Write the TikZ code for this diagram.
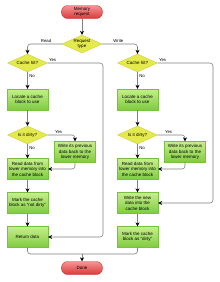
\documentclass[tikz,border=0pt]{standalone}
\usepackage{fontspec}
\setmainfont{Liberation Sans}
\usetikzlibrary{arrows.meta,shapes.geometric}
\definecolor{lineg}{HTML}{808080}
\definecolor{boxtop}{HTML}{C6EE8C}
\definecolor{boxbot}{HTML}{7FCB3E}
\definecolor{boxdraw}{HTML}{78C040}
\definecolor{diafill}{HTML}{E4EA4C}
\definecolor{diadraw}{HTML}{C4CA30}
\definecolor{termtop}{HTML}{F49494}
\definecolor{termbot}{HTML}{DA3838}
\definecolor{termdraw}{HTML}{C03030}
\tikzset{
  txt/.style={font=\fontsize{4.5}{5.4}\selectfont, align=center, text=black},
  procbox/.style={txt, rectangle, draw=boxdraw, line width=0.3pt, top color=boxtop, bottom color=boxbot,
    minimum width=41pt, minimum height=21pt, inner sep=0pt},
  decision/.style={txt, diamond, draw=diadraw, line width=0.3pt, fill=diafill,
    minimum width=40pt, minimum height=18pt, inner sep=0pt, shape aspect=2.2},
  terminal/.style={txt, rectangle, rounded corners=6pt, draw=termdraw, line width=0.3pt,
    top color=termtop, bottom color=termbot, minimum width=41pt, minimum height=13pt, inner sep=0pt},
  conn/.style={draw=lineg, line width=0.6pt, rounded corners=3pt},
  arr/.style={conn, -{Stealth[length=4pt,width=4pt,inset=1.3pt,black]}},
  lbl/.style={font=\fontsize{4.3}{5}\selectfont, text=black, inner sep=0pt}
}
\begin{document}
\begin{tikzpicture}[x=1pt,y=-1pt]
\useasboundingbox (0,0) rectangle (220,282);
% nodes
\node[terminal] (mr) at (82,12) {Memory\\request};
\node[decision] (rt) at (82,44) {Request\\type};
\node[decision] (ch1) at (27.5,63) {Cache hit?};
\node[decision] (ch2) at (137.5,63) {Cache hit?};
\node[procbox] (loc1) at (27.5,99.5) {Locate a cache\\block to use};
\node[procbox] (loc2) at (137.5,99.5) {Locate a cache\\block to use};
\node[decision] (d1) at (27.5,135) {Is it dirty?};
\node[decision] (d2) at (137.5,135) {Is it dirty?};
\node[procbox] (wb1) at (75,152) {Write its previous\\data back to the\\lower memory};
\node[procbox] (wb2) at (185,152) {Write its previous\\data back to the\\lower memory};
\node[procbox] (rd1) at (27.5,169) {Read data from\\lower memory into\\the cache block};
\node[procbox] (rd2) at (137.5,169) {Read data from\\lower memory into\\the cache block};
\node[procbox] (mk1) at (27.5,203) {Mark the cache\\block as "not dirty"};
\node[procbox] (wn2) at (137.5,203) {Write the new\\data into the\\cache block};
\node[procbox] (ret) at (27.5,237) {Return data};
\node[procbox] (mk2) at (137.5,237) {Mark the cache\\block as "dirty"};
\node[terminal] (done) at (82,268) {Done};
\coordinate (yl) at (103,63);
\coordinate (yr) at (213,63);
\coordinate (jn) at (82,254);
% connectors
\draw[arr] (mr) -- (rt);
\draw[arr] (rt.west) -| node[lbl, pos=0.23, above=1.5pt] {Read} (ch1.north);
\draw[arr] (rt.east) -| node[lbl, pos=0.23, above=1.5pt] {Write} (ch2.north);
\draw[arr] (ch1) -- node[lbl, pos=0.22, right=1.5pt] {No} (loc1);
\draw[arr] (ch2) -- node[lbl, pos=0.22, right=1.5pt] {No} (loc2);
\draw[arr] (ch1.east) -- node[lbl, pos=0.09, above=1.5pt] {Yes} (yl) |- (ret.east);
\draw[arr] (ch2.east) -- node[lbl, pos=0.09, above=1.5pt] {Yes} (yr) |- (wn2.east);
\draw[arr] (loc1) -- (d1);
\draw[arr] (loc2) -- (d2);
\draw[arr] (d1.east) -| node[lbl, pos=0.2, above=1.5pt] {Yes} (wb1.north);
\draw[arr] (d2.east) -| node[lbl, pos=0.2, above=1.5pt] {Yes} (wb2.north);
\draw[arr] (d1) -- node[lbl, pos=0.3, right=1.5pt] {No} (rd1);
\draw[arr] (d2) -- node[lbl, pos=0.3, right=1.5pt] {No} (rd2);
\draw[arr] (wb1.south) |- (rd1.east);
\draw[arr] (wb2.south) |- (rd2.east);
\draw[arr] (rd1) -- (mk1);
\draw[arr] (rd2) -- (wn2);
\draw[arr] (mk1) -- (ret);
\draw[arr] (wn2) -- (mk2);
\draw[conn] (ret.south) |- (jn) -| (mk2.south);
\draw[arr] (jn) -- (done.north);
\end{tikzpicture}
\end{document}
